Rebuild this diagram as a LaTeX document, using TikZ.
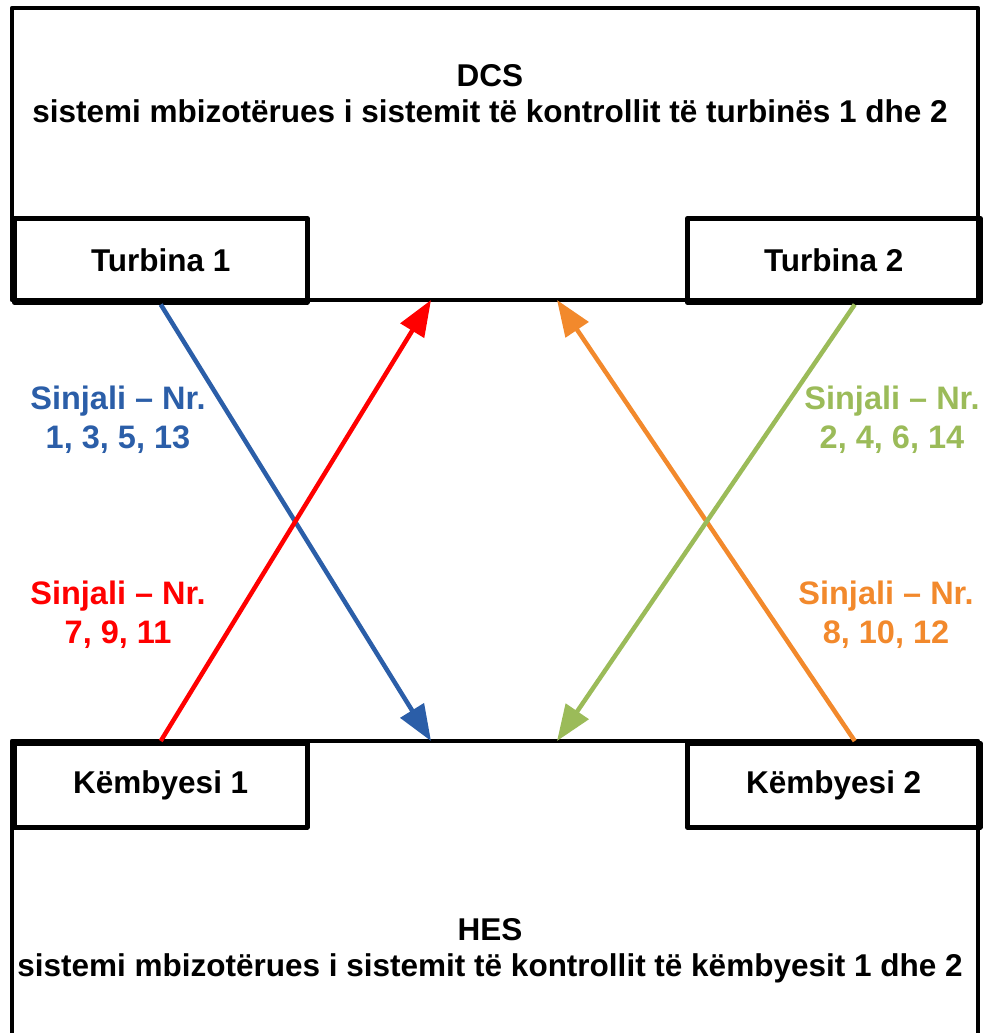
\documentclass[tikz,border=0pt]{standalone}
\usepackage{fontspec}
\setmainfont{Liberation Sans}
\usetikzlibrary{arrows.meta}
\definecolor{cblue}{HTML}{2B5EA8}
\definecolor{cred}{HTML}{FF0000}
\definecolor{cgreen}{HTML}{9BBB59}
\definecolor{corange}{HTML}{F2892C}
\tikzset{
  frame/.style={draw=black, line width=4.5pt, line join=round},
  subbox/.style={frame, minimum width=293pt, minimum height=84pt, inner sep=0pt, anchor=north west, font=\bfseries\fontsize{31.5}{36}\selectfont},
  maintext/.style={align=center, font=\bfseries\fontsize{31.5}{36}\selectfont},
  sig/.style={line width=4.5pt, -{Triangle[length=36pt,width=27pt]}},
  siglabel/.style={align=center, font=\bfseries\fontsize{32.5}{39}\selectfont}
}
\begin{document}
\begin{tikzpicture}[x=1pt,y=-1pt]
\useasboundingbox (0,0) rectangle (984,1033);
% DCS box
\draw[frame] (12,8) rectangle (978,300);
\node[maintext] (dcs) at (490,94) {DCS\\sistemi mbizotërues i sistemit të kontrollit të turbinës 1 dhe 2};
\node[subbox] (t1) at (12,216) {Turbina 1};
\node[subbox] (t2) at (685,216) {Turbina 2};
% HES box
\draw[frame] (12,1040) -- (12,741) -- (978,741) -- (978,1040);
\node[maintext] (hes) at (490,951) {HES\\sistemi mbizotërues i sistemit të kontrollit të këmbyesit 1 dhe 2};
\node[subbox] (k1) at (12,741) {Këmbyesi 1};
\node[subbox] (k2) at (685,741) {Këmbyesi 2};
% arrow end points
\coordinate (hesL) at (431,741);
\coordinate (hesR) at (557,741);
\coordinate (dcsL) at (431,300);
\coordinate (dcsR) at (557,300);
% arrows
\draw[sig, cblue] (t1.south) -- (hesL);
\draw[sig, cred] (k1.north) -- (dcsL);
\draw[sig, corange] ([xshift=21pt]k2.north) -- (dcsR);
\draw[sig, cgreen] ([xshift=21pt]t2.south) -- (hesR);
% labels
\node[siglabel, text=cblue] (lb) at (118,420) {Sinjali – Nr.\\1, 3, 5, 13};
\node[siglabel, text=cred] (lr) at (118,615) {Sinjali – Nr.\\7, 9, 11};
\node[siglabel, text=cgreen] (lg) at (892,420) {Sinjali – Nr.\\2, 4, 6, 14};
\node[siglabel, text=corange] (lo) at (886,615) {Sinjali – Nr.\\8, 10, 12};
\end{tikzpicture}
\end{document}
